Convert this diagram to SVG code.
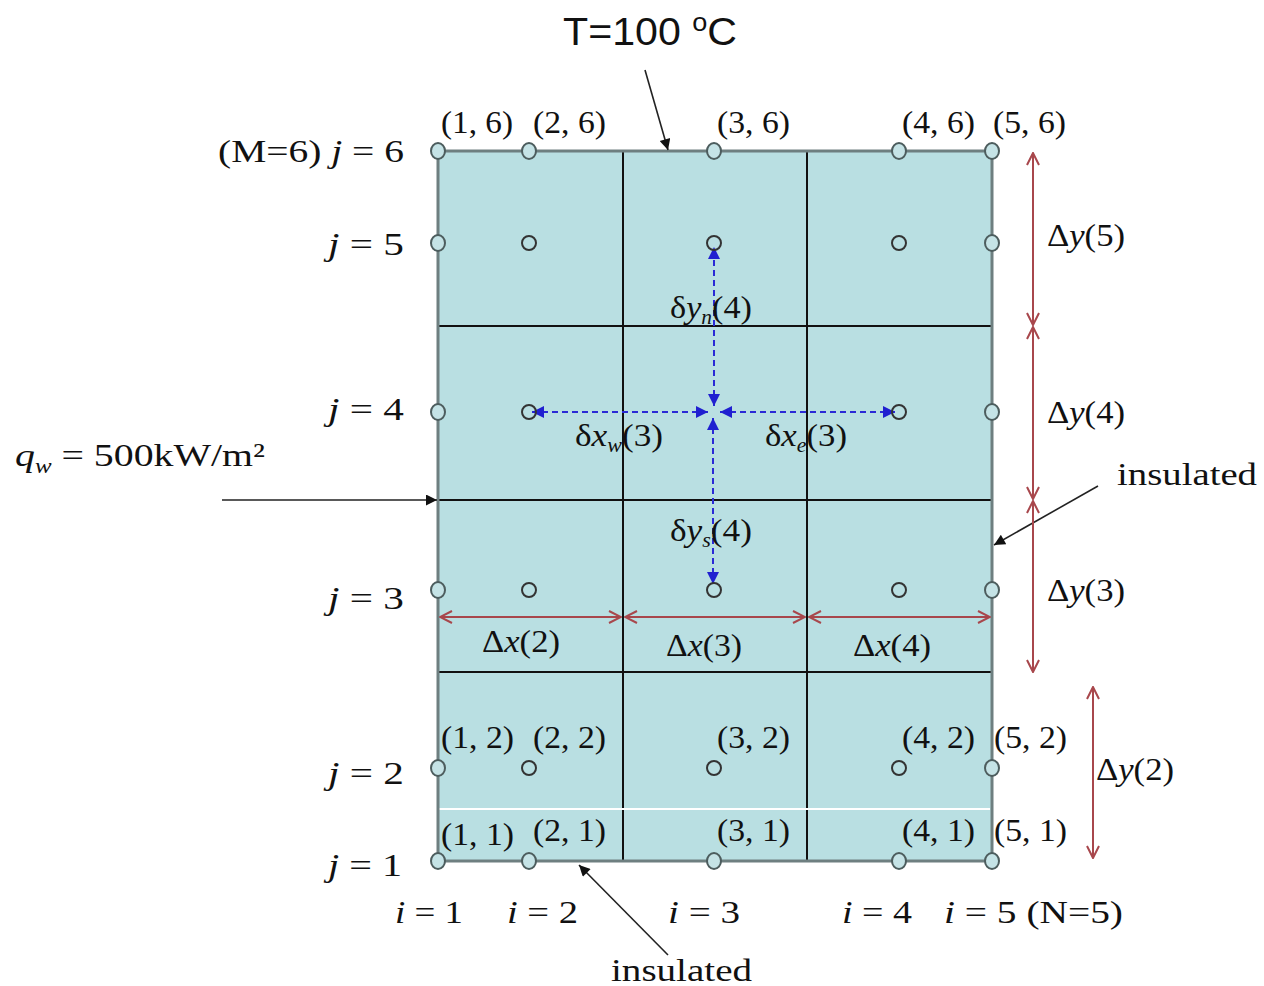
<svg xmlns="http://www.w3.org/2000/svg" width="1264" height="986" viewBox="0 0 1264 986">
<defs>
<style>
.t{font-family:"Liberation Serif","Times New Roman",serif;font-size:32px;fill:#111}
.it{font-style:italic}
.sub{font-style:italic;font-size:20px}
.grid{stroke:#111;stroke-width:2}
.bn{fill:#c5e3e6;stroke:#4d5d5e;stroke-width:2}
.in{fill:none;stroke:#333;stroke-width:2}
.red{stroke:#a8474c;stroke-width:2;fill:none;marker-start:url(#rv);marker-end:url(#rv)}
.blue{stroke:#2a2ad6;stroke-width:2;stroke-dasharray:6 4;fill:none;marker-start:url(#bt);marker-end:url(#bt)}
.blk{stroke:#222;stroke-width:1.6;fill:none;marker-end:url(#ka)}
</style>
<marker id="rv" viewBox="0 0 14 14" refX="13" refY="7" markerWidth="14" markerHeight="14" markerUnits="userSpaceOnUse" orient="auto-start-reverse">
<path d="M1,1 L13,7 L1,13" fill="none" stroke="#a8474c" stroke-width="2"/>
</marker>
<marker id="bt" viewBox="0 0 10 10" refX="10" refY="5" markerWidth="12" markerHeight="12" markerUnits="userSpaceOnUse" orient="auto-start-reverse">
<path d="M0,0 L10,5 L0,10 z" fill="#2020d0"/>
</marker>
<marker id="ka" viewBox="0 0 10 10" refX="10" refY="5" markerWidth="14" markerHeight="11" markerUnits="userSpaceOnUse" orient="auto">
<path d="M0,0 L10,5 L0,10 z" fill="#111"/>
</marker>
</defs>
<rect width="1264" height="986" fill="#fff"/>

<g id="domain">
<rect x="438" y="151" width="554" height="710" fill="#b9dfe2"/>
<line class="grid" x1="623" y1="151" x2="623" y2="861"/>
<line class="grid" x1="807" y1="151" x2="807" y2="861"/>
<line class="grid" x1="438" y1="326" x2="992" y2="326"/>
<line class="grid" x1="438" y1="500" x2="992" y2="500"/>
<line class="grid" x1="438" y1="672" x2="992" y2="672"/>
<line x1="438" y1="809" x2="990" y2="809" stroke="#fff" stroke-width="2"/>
<rect x="438" y="151" width="554" height="710" fill="none" stroke="#6e7f80" stroke-width="3"/>
</g>

<g id="connectors">
<line class="blk" x1="645" y1="70" x2="668" y2="150"/>
<line class="blk" x1="222" y1="500" x2="437" y2="500" stroke-width="2"/>
<line class="blk" x1="1098" y1="486" x2="994" y2="545"/>
<line class="blk" x1="668" y1="955" x2="579" y2="865"/>
<line class="red" x1="440" y1="617" x2="621" y2="617"/>
<line class="red" x1="625" y1="617" x2="805" y2="617"/>
<line class="red" x1="809" y1="617" x2="990" y2="617"/>
<line class="red" x1="1033" y1="153" x2="1033" y2="325"/>
<line class="red" x1="1033" y1="327" x2="1033" y2="499"/>
<line class="red" x1="1033" y1="501" x2="1033" y2="672"/>
<line class="red" x1="1093" y1="687" x2="1093" y2="858"/>
<line class="blue" x1="714" y1="406" x2="714" y2="247"/>
<line class="blue" x1="713" y1="418" x2="713" y2="584"/>
<line class="blue" x1="708" y1="412" x2="532" y2="412"/>
<line class="blue" x1="720" y1="412" x2="895" y2="412"/>
</g>

<g id="nodes">
<g id="n1-6"><ellipse class="bn" cx="438" cy="151" rx="7" ry="8"/></g>
<g id="n2-6"><ellipse class="bn" cx="529" cy="151" rx="7" ry="8"/></g>
<g id="n3-6"><ellipse class="bn" cx="714" cy="151" rx="7" ry="8"/></g>
<g id="n4-6"><ellipse class="bn" cx="899" cy="151" rx="7" ry="8"/></g>
<g id="n5-6"><ellipse class="bn" cx="992" cy="151" rx="7" ry="8"/></g>
<g id="n1-5"><ellipse class="bn" cx="438" cy="243" rx="7" ry="8"/></g>
<g id="n2-5"><circle class="in" cx="529" cy="243" r="7"/></g>
<g id="n3-5"><circle class="in" cx="714" cy="243" r="7"/></g>
<g id="n4-5"><circle class="in" cx="899" cy="243" r="7"/></g>
<g id="n5-5"><ellipse class="bn" cx="992" cy="243" rx="7" ry="8"/></g>
<g id="n1-4"><ellipse class="bn" cx="438" cy="412" rx="7" ry="8"/></g>
<g id="n2-4"><circle class="in" cx="529" cy="412" r="7"/></g>
<g id="n4-4"><circle class="in" cx="899" cy="412" r="7"/></g>
<g id="n5-4"><ellipse class="bn" cx="992" cy="412" rx="7" ry="8"/></g>
<g id="n1-3"><ellipse class="bn" cx="438" cy="590" rx="7" ry="8"/></g>
<g id="n2-3"><circle class="in" cx="529" cy="590" r="7"/></g>
<g id="n3-3"><circle class="in" cx="714" cy="590" r="7"/></g>
<g id="n4-3"><circle class="in" cx="899" cy="590" r="7"/></g>
<g id="n5-3"><ellipse class="bn" cx="992" cy="590" rx="7" ry="8"/></g>
<g id="n1-2"><ellipse class="bn" cx="438" cy="768" rx="7" ry="8"/></g>
<g id="n2-2"><circle class="in" cx="529" cy="768" r="7"/></g>
<g id="n3-2"><circle class="in" cx="714" cy="768" r="7"/></g>
<g id="n4-2"><circle class="in" cx="899" cy="768" r="7"/></g>
<g id="n5-2"><ellipse class="bn" cx="992" cy="768" rx="7" ry="8"/></g>
<g id="n1-1"><ellipse class="bn" cx="438" cy="861" rx="7" ry="8"/></g>
<g id="n2-1"><ellipse class="bn" cx="529" cy="861" rx="7" ry="8"/></g>
<g id="n3-1"><ellipse class="bn" cx="714" cy="861" rx="7" ry="8"/></g>
<g id="n4-1"><ellipse class="bn" cx="899" cy="861" rx="7" ry="8"/></g>
<g id="n5-1"><ellipse class="bn" cx="992" cy="861" rx="7" ry="8"/></g>
</g>

<g id="labels">
<text x="563" y="45" font-family="'Liberation Sans',Arial,sans-serif" font-size="38" fill="#111" textLength="174" lengthAdjust="spacingAndGlyphs">T=100 <tspan font-size="25" dy="-14">o</tspan><tspan dy="14">C</tspan></text>

<text class="t" x="441" y="133" textLength="72" lengthAdjust="spacingAndGlyphs">(1, 6)</text>
<text class="t" x="533" y="133" textLength="73" lengthAdjust="spacingAndGlyphs">(2, 6)</text>
<text class="t" x="717" y="133" textLength="73" lengthAdjust="spacingAndGlyphs">(3, 6)</text>
<text class="t" x="902" y="133" textLength="73" lengthAdjust="spacingAndGlyphs">(4, 6)</text>
<text class="t" x="993" y="133" textLength="73" lengthAdjust="spacingAndGlyphs">(5, 6)</text>
<text class="t" x="441" y="748" textLength="73" lengthAdjust="spacingAndGlyphs">(1, 2)</text>
<text class="t" x="533" y="748" textLength="73" lengthAdjust="spacingAndGlyphs">(2, 2)</text>
<text class="t" x="717" y="748" textLength="73" lengthAdjust="spacingAndGlyphs">(3, 2)</text>
<text class="t" x="902" y="748" textLength="73" lengthAdjust="spacingAndGlyphs">(4, 2)</text>
<text class="t" x="994" y="748" textLength="73" lengthAdjust="spacingAndGlyphs">(5, 2)</text>
<text class="t" x="441" y="845" textLength="73" lengthAdjust="spacingAndGlyphs">(1, 1)</text>
<text class="t" x="533" y="841" textLength="73" lengthAdjust="spacingAndGlyphs">(2, 1)</text>
<text class="t" x="717" y="841" textLength="73" lengthAdjust="spacingAndGlyphs">(3, 1)</text>
<text class="t" x="902" y="841" textLength="73" lengthAdjust="spacingAndGlyphs">(4, 1)</text>
<text class="t" x="994" y="841" textLength="73" lengthAdjust="spacingAndGlyphs">(5, 1)</text>

<text class="t" x="218" y="162" textLength="186" lengthAdjust="spacingAndGlyphs">(M=6) <tspan class="it">j</tspan> = 6</text>
<text class="t" x="328" y="255" textLength="76" lengthAdjust="spacingAndGlyphs"><tspan class="it">j</tspan> = 5</text>
<text class="t" x="328" y="420" textLength="76" lengthAdjust="spacingAndGlyphs"><tspan class="it">j</tspan> = 4</text>
<text class="t" x="328" y="609" textLength="76" lengthAdjust="spacingAndGlyphs"><tspan class="it">j</tspan> = 3</text>
<text class="t" x="328" y="784" textLength="76" lengthAdjust="spacingAndGlyphs"><tspan class="it">j</tspan> = 2</text>
<text class="t" x="328" y="876" textLength="74" lengthAdjust="spacingAndGlyphs"><tspan class="it">j</tspan> = 1</text>

<text class="t" x="395" y="923" textLength="68" lengthAdjust="spacingAndGlyphs"><tspan class="it">i</tspan> = 1</text>
<text class="t" x="507" y="923" textLength="71" lengthAdjust="spacingAndGlyphs"><tspan class="it">i</tspan> = 2</text>
<text class="t" x="668" y="923" textLength="72" lengthAdjust="spacingAndGlyphs"><tspan class="it">i</tspan> = 3</text>
<text class="t" x="842" y="923" textLength="70" lengthAdjust="spacingAndGlyphs"><tspan class="it">i</tspan> = 4</text>
<text class="t" x="944" y="923" textLength="179" lengthAdjust="spacingAndGlyphs"><tspan class="it">i</tspan> = 5 (N=5)</text>

<text class="t" x="15" y="466" font-size="33" textLength="250" lengthAdjust="spacingAndGlyphs"><tspan class="it">q</tspan><tspan class="sub" dy="7">w</tspan><tspan dy="-7"> = 500kW/m²</tspan></text>

<text class="t" x="482" y="652" textLength="78" lengthAdjust="spacingAndGlyphs">Δ<tspan class="it">x</tspan>(2)</text>
<text class="t" x="666" y="656" textLength="76" lengthAdjust="spacingAndGlyphs">Δ<tspan class="it">x</tspan>(3)</text>
<text class="t" x="853" y="656" textLength="78" lengthAdjust="spacingAndGlyphs">Δ<tspan class="it">x</tspan>(4)</text>
<text class="t" x="1047" y="246" textLength="78" lengthAdjust="spacingAndGlyphs">Δ<tspan class="it">y</tspan>(5)</text>
<text class="t" x="1047" y="423" textLength="78" lengthAdjust="spacingAndGlyphs">Δ<tspan class="it">y</tspan>(4)</text>
<text class="t" x="1047" y="601" textLength="78" lengthAdjust="spacingAndGlyphs">Δ<tspan class="it">y</tspan>(3)</text>
<text class="t" x="1096" y="780" textLength="78" lengthAdjust="spacingAndGlyphs">Δ<tspan class="it">y</tspan>(2)</text>

<text class="t" x="670" y="318" textLength="82" lengthAdjust="spacingAndGlyphs">δ<tspan class="it">y</tspan><tspan class="sub" dy="6">n</tspan><tspan dy="-6">(4)</tspan></text>
<text class="t" x="575" y="446" textLength="88" lengthAdjust="spacingAndGlyphs">δ<tspan class="it">x</tspan><tspan class="sub" dy="6">w</tspan><tspan dy="-6">(3)</tspan></text>
<text class="t" x="765" y="446" textLength="82" lengthAdjust="spacingAndGlyphs">δ<tspan class="it">x</tspan><tspan class="sub" dy="6">e</tspan><tspan dy="-6">(3)</tspan></text>
<text class="t" x="670" y="541" textLength="82" lengthAdjust="spacingAndGlyphs">δ<tspan class="it">y</tspan><tspan class="sub" dy="6">s</tspan><tspan dy="-6">(4)</tspan></text>

<text class="t" x="1117" y="485" font-size="38" textLength="140" lengthAdjust="spacingAndGlyphs">insulated</text>
<text class="t" x="611" y="981" font-size="38" textLength="141" lengthAdjust="spacingAndGlyphs">insulated</text>
</g>
</svg>
